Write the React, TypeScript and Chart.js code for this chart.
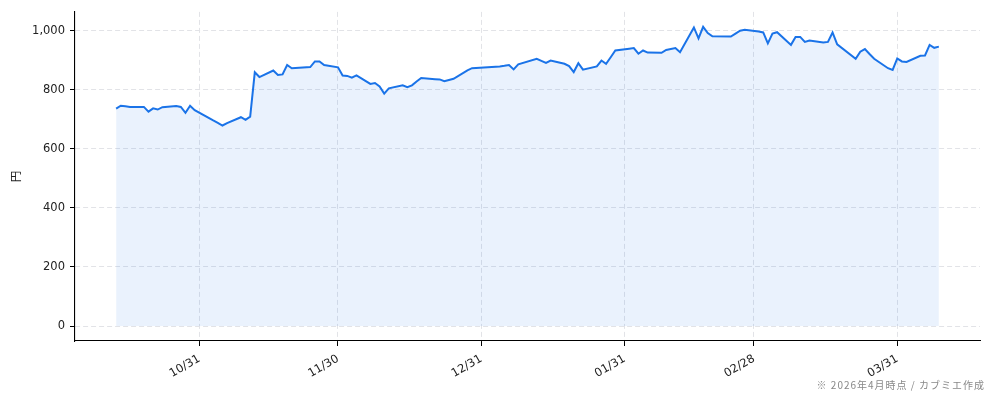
import { useEffect, useRef } from 'react';
import { Chart, registerables } from 'chart.js';

Chart.register(...registerables);

// dates as plotted (one point per trading session)
const dates = [
  '2025-10-13', '2025-10-14', '2025-10-15', '2025-10-16', '2025-10-19', '2025-10-20', '2025-10-21',
  '2025-10-22', '2025-10-23', '2025-10-26', '2025-10-27', '2025-10-28', '2025-10-29', '2025-10-30',
  '2025-11-03', '2025-11-04', '2025-11-05', '2025-11-06', '2025-11-09', '2025-11-10', '2025-11-11',
  '2025-11-12', '2025-11-13', '2025-11-16', '2025-11-17', '2025-11-18', '2025-11-19', '2025-11-20',
  '2025-11-24', '2025-11-25', '2025-11-26', '2025-11-27', '2025-11-30',
  '2025-12-01', '2025-12-02', '2025-12-03', '2025-12-04', '2025-12-07', '2025-12-08', '2025-12-09',
  '2025-12-10', '2025-12-11', '2025-12-14', '2025-12-15', '2025-12-16', '2025-12-17', '2025-12-18',
  '2025-12-21', '2025-12-22', '2025-12-23', '2025-12-24', '2025-12-25', '2025-12-28', '2025-12-29',
  '2026-01-04', '2026-01-05', '2026-01-06', '2026-01-07', '2026-01-08', '2026-01-12', '2026-01-13',
  '2026-01-14', '2026-01-15', '2026-01-18', '2026-01-19', '2026-01-20', '2026-01-21', '2026-01-22',
  '2026-01-25', '2026-01-26', '2026-01-27', '2026-01-28', '2026-01-29',
  '2026-02-01', '2026-02-02', '2026-02-03', '2026-02-04', '2026-02-05', '2026-02-08', '2026-02-09',
  '2026-02-11', '2026-02-12', '2026-02-15', '2026-02-16', '2026-02-17', '2026-02-18', '2026-02-19',
  '2026-02-23', '2026-02-24', '2026-02-25', '2026-02-26',
  '2026-03-01', '2026-03-02', '2026-03-03', '2026-03-04', '2026-03-05', '2026-03-08', '2026-03-09',
  '2026-03-10', '2026-03-11', '2026-03-12', '2026-03-15', '2026-03-16', '2026-03-17', '2026-03-18',
  '2026-03-22', '2026-03-23', '2026-03-24', '2026-03-25', '2026-03-26', '2026-03-29', '2026-03-30',
  '2026-03-31', '2026-04-01', '2026-04-02', '2026-04-05', '2026-04-06', '2026-04-07', '2026-04-08',
  '2026-04-09',
];

const prices = [
  736, 746, 744, 742, 742, 726, 737, 733, 741, 745, 742, 722, 746, 731,
  696, 688, 679, 687, 707, 698, 709, 859, 843, 865, 850, 852, 884, 873,
  877, 896, 896, 884, 876,
  848, 847, 841, 849, 820, 823, 811, 787, 805, 815, 809, 815, 828, 840,
  836, 835, 829, 833, 837, 866, 873,
  879, 881, 884, 869, 886, 905, 898, 891, 899, 888, 880, 860, 890, 868,
  879, 899, 888, 910, 933,
  939, 941, 922, 933, 926, 925, 935, 941, 927, 1011, 974, 1013, 992, 981,
  980, 990, 1000, 1003,
  997, 994, 957, 990, 995, 952, 979, 979, 962, 967, 960, 962, 994, 954,
  905, 929, 938, 921, 905, 873, 867, 906, 896, 894, 915, 916, 952, 942,
  946,
];

const xTickDates = ['2025-10-31', '2025-11-30', '2025-12-31', '2026-01-31', '2026-02-28', '2026-03-31'];
const xTickLabels = ['10/31', '11/30', '12/31', '01/31', '02/28', '03/31'];
const yTicks = [0, 200, 400, 600, 800, 1000];

const yTitle = '円';
const footnote = '※ 2026年4月時点 / カブミエ作成';

const toDay = (s: string) => {
  const [y, m, d] = s.split('-').map(Number);
  return Date.UTC(y, m - 1, d) / 86400000;
};

const FONT = "'DejaVu Sans', 'Noto Sans CJK JP', sans-serif";

export default function App() {
  const canvasRef = useRef<HTMLCanvasElement>(null);

  useEffect(() => {
    if (!canvasRef.current) return;

    const days = dates.map(toDay);
    const points = days.map((x, i) => ({ x, y: prices[i] }));
    const tickDays = xTickDates.map(toDay);

    // matplotlib-like 5% margins
    const xSpan = days[days.length - 1] - days[0];
    const xMin = days[0] - xSpan * 0.05;
    const xMax = days[days.length - 1] + xSpan * 0.05;
    const yHi = Math.max(...prices);
    const yMin = -yHi * 0.05;
    const yMax = yHi * 1.05;

    const grid = {
      color: '#e2e3e7',
      lineWidth: 1,
      tickColor: '#000',
      tickLength: 5,
      tickWidth: 1,
    };
    const border = { display: true, color: '#000', width: 1.1, dash: [5, 3] };

    const chart = new Chart(canvasRef.current, {
      type: 'line',
      data: {
        datasets: [
          {
            data: points,
            borderColor: '#1a73e8',
            borderWidth: 2,
            backgroundColor: 'rgba(26, 115, 232, 0.09)',
            fill: 'origin',
            pointRadius: 0,
            tension: 0,
          },
        ],
      },
      options: {
        animation: false,
        responsive: true,
        maintainAspectRatio: false,
        layout: { padding: { top: 10, right: 14, bottom: 0, left: 0 } },
        plugins: {
          legend: { display: false },
          tooltip: { enabled: false },
        },
        scales: {
          x: {
            type: 'linear',
            min: xMin,
            max: xMax,
            afterBuildTicks: (scale: any) => {
              scale.ticks = tickDays.map((v) => ({ value: v }));
            },
            afterFit: (scale: any) => {
              scale.height = 60;
            },
            ticks: {
              autoSkip: false,
              minRotation: 30,
              maxRotation: 30,
              padding: 6,
              color: '#222',
              font: { family: FONT, size: 11.5 },
              callback: (value: any) => {
                const i = tickDays.indexOf(Number(value));
                return i >= 0 ? xTickLabels[i] : '';
              },
            },
            grid,
            border,
          },
          y: {
            min: yMin,
            max: yMax,
            afterBuildTicks: (scale: any) => {
              scale.ticks = yTicks.map((v) => ({ value: v }));
            },
            afterFit: (scale: any) => {
              scale.width = 75;
            },
            ticks: {
              padding: 5,
              color: '#222',
              font: { family: FONT, size: 11.5 },
              callback: (value: any) => Number(value).toLocaleString('en-US'),
            },
            title: {
              display: true,
              text: yTitle,
              color: '#222',
              font: { family: FONT, size: 11.5 },
              padding: { top: 10, bottom: 0 },
            },
            grid,
            border,
          },
        },
      },
    });

    return () => {
      chart.destroy();
    };
  }, []);

  return (
    <div style={{ position: 'absolute', left: 0, top: 0, width: 994, height: 401, background: '#fff' }}>
      <canvas ref={canvasRef} />
      <div
        style={{
          position: 'absolute',
          right: 9,
          top: 378,
          fontFamily: "'Noto Sans CJK JP', sans-serif",
          fontSize: 10,
          lineHeight: '14px',
          letterSpacing: 1,
          color: '#888',
          whiteSpace: 'nowrap',
        }}
      >
        {footnote}
      </div>
    </div>
  );
}
